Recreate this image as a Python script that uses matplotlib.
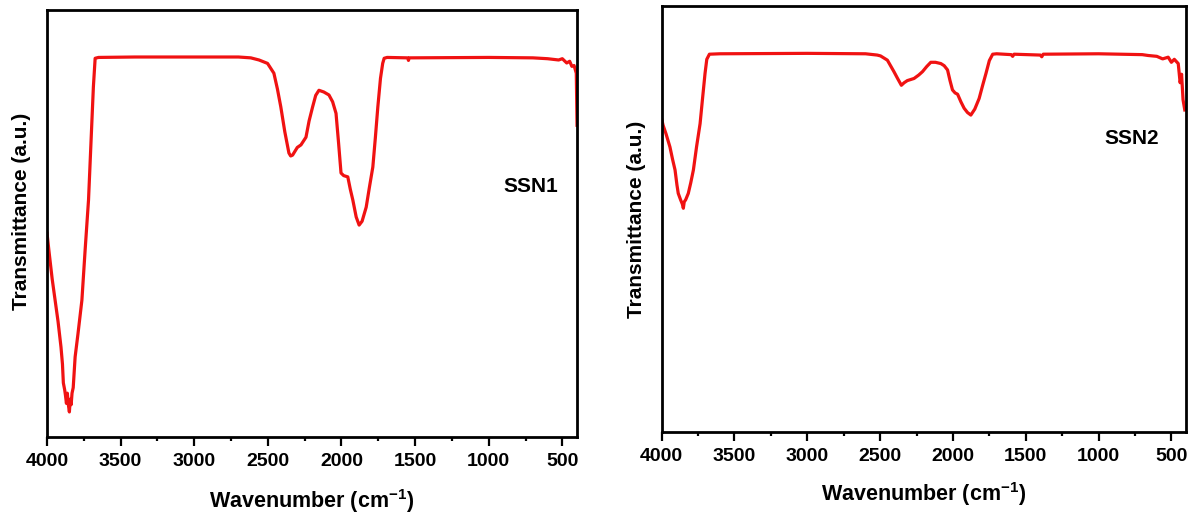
import matplotlib
matplotlib.use("Agg")
import matplotlib.pyplot as plt
from matplotlib.ticker import MultipleLocator

# -------------------------
# DATA
# -------------------------

ssn1_wavenumber = [
    4000, 3985, 3965, 3945, 3925, 3905, 3895, 3889, 3880, 3875, 3868, 3862,
    3855, 3848, 3842, 3836, 3830, 3822, 3809, 3790, 3763, 3741, 3718, 3700,
    3685, 3673, 3650, 3400, 3000, 2700, 2616, 2560, 2502, 2459, 2435, 2412,
    2385, 2357, 2345, 2332, 2300, 2275, 2241, 2220, 2196, 2175, 2153, 2120,
    2085, 2060, 2037, 2020, 2003, 1985, 1957, 1940, 1923, 1900, 1880, 1860,
    1832, 1810, 1787, 1770, 1753, 1735, 1720, 1710, 1690, 1550, 1545, 1540,
    1000, 700, 600, 525, 500, 470, 450, 435, 420, 405, 400
]
ssn1_transmittance = [
    47.7, 43, 37, 32, 27, 21, 17, 12.6, 11, 9.8, 7.8, 10.2,
    7.5, 5.8, 8.8, 7.5, 10.2, 11.5, 18.7, 24, 32, 43.8, 55.5, 70,
    82, 88.7, 88.9, 89, 89, 89, 88.8, 88.3, 87.5, 85.2, 81.5, 77.3,
    71.5, 66.5, 65.8, 66, 67.8, 68.4, 70.2, 74, 77.3, 80, 81.2, 80.8,
    80.1, 78.5, 75.8, 69, 61.8, 61.2, 60.9, 58, 55.5, 51.5, 49.6, 50.5,
    53.8, 58.5, 63.2, 70, 77.3, 84, 87.5, 88.7, 88.9, 88.8, 88.2, 88.8,
    88.9, 88.8, 88.6, 88.3, 88.6, 87.6, 88, 86.8, 87, 85.2, 73
]

ssn2_wavenumber = [
    4000, 3990, 3970, 3943, 3925, 3908, 3895, 3886, 3870, 3858, 3851, 3845,
    3835, 3817, 3800, 3782, 3760, 3736, 3720, 3702, 3690, 3672, 3600, 3000,
    2600, 2520, 2497, 2450, 2405, 2380, 2354, 2335, 2313, 2267, 2235, 2209,
    2180, 2152, 2120, 2083, 2060, 2037, 2020, 2003, 1985, 1968, 1945, 1923,
    1900, 1877, 1850, 1820, 1795, 1773, 1750, 1727, 1700, 1600, 1590, 1580,
    1400, 1390, 1380, 1000, 700, 660, 600, 560, 522, 500, 480, 453,
    440, 430, 420, 408
]
ssn2_transmittance = [
    73.5, 72, 70, 66.9, 64, 61.5, 58, 56, 54.5, 53.5, 52.5, 54,
    54.5, 56, 58.5, 61.5, 67, 72.4, 78, 84.2, 87.5, 88.7, 88.8, 88.9,
    88.8, 88.5, 88.3, 87.3, 84.6, 83, 81.4, 82, 82.5, 83, 83.8, 84.6,
    85.8, 86.8, 86.8, 86.5, 86, 85, 82.5, 80.3, 79.6, 79.3, 77.5, 76,
    75, 74.4, 75.8, 78.3, 81.5, 84.2, 87.2, 88.7, 88.8, 88.6, 88.2, 88.7,
    88.5, 88.1, 88.7, 88.8, 88.6, 88.4, 88.2, 87.6, 88, 86.8, 87.5, 86.5,
    82, 84, 78, 75.6
]

sample_names = ["SSN1", "SSN2"]
x_ticks = [4000, 3500, 3000, 2500, 2000, 1500, 1000, 500]

# -------------------------
# STYLE
# -------------------------

plt.rcParams["font.family"] = ["Liberation Sans", "DejaVu Sans"]
plt.rcParams["font.weight"] = "bold"
plt.rcParams["mathtext.fontset"] = "custom"
plt.rcParams["mathtext.rm"] = "Liberation Sans:bold"
plt.rcParams["mathtext.bf"] = "Liberation Sans:bold"
plt.rcParams["mathtext.default"] = "bf"

line_color = "#f01212"

fig = plt.figure(figsize=(11.9, 5.14), dpi=100)

ax1 = fig.add_axes([0.0395, 0.1504, 0.4454, 0.830])
ax2 = fig.add_axes([0.556, 0.1601, 0.4406, 0.828])

panels = [
    (ax1, ssn1_wavenumber, ssn1_transmittance, sample_names[0], (714, 58.6), 0.529, -0.118),
    (ax2, ssn2_wavenumber, ssn2_transmittance, sample_names[1], (775, 69.0), 0.500, -0.113),
]

# -------------------------
# SPECTRA
# -------------------------

for ax, wn, tr, name, text_pos, ylab_y, xlab_y in panels:
    ax.plot(wn, tr, color=line_color, linewidth=2.3)

    ax.set_xlim(4000, 400)
    ax.set_ylim(0, 100)

    ax.set_xticks(x_ticks)
    ax.xaxis.set_minor_locator(MultipleLocator(250))
    ax.set_yticks([])

    ax.tick_params(axis="x", which="major", direction="out", length=6.5,
                   width=1.6, labelsize=14, pad=5)
    ax.tick_params(axis="x", which="minor", direction="out", length=3.2,
                   width=1.6)
    for lab in ax.get_xticklabels():
        lab.set_fontweight("bold")

    for spine in ax.spines.values():
        spine.set_linewidth(2.0)

    ax.set_xlabel(r"Wavenumber (cm$^{-1}$)", fontsize=15.5, fontweight="bold")
    ax.set_ylabel("Transmittance (a.u.)", fontsize=15, fontweight="bold")
    ax.xaxis.set_label_coords(0.5, xlab_y)
    ax.yaxis.set_label_coords(-0.030, ylab_y)

    ax.text(text_pos[0], text_pos[1], name, fontsize=15, fontweight="bold",
            ha="center", va="center")

fig.savefig("out.png", dpi=100)
